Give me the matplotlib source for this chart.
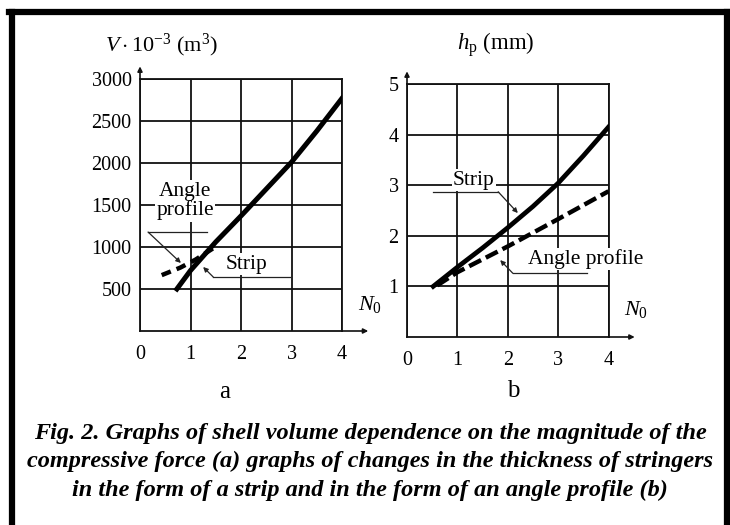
import matplotlib
matplotlib.use("Agg")
import matplotlib.pyplot as plt
from matplotlib.lines import Line2D

plt.rcParams['font.family'] = ['Liberation Serif', 'DejaVu Serif']
plt.rcParams['mathtext.fontset'] = 'custom'
plt.rcParams['mathtext.rm'] = 'Liberation Serif'
plt.rcParams['mathtext.it'] = 'Liberation Serif:italic'

# --- data ---
n_ticks = [0, 1, 2, 3, 4]

# (a) shell volume V*10^-3, m^3
vol_ticks = [500, 1000, 1500, 2000, 2500, 3000]
strip_a_x = [0.73, 1.0, 1.5, 2.0, 2.5, 3.0, 3.5, 4.0]
strip_a_y = [500, 720, 1060, 1370, 1690, 2010, 2380, 2770]
angle_a_x = [0.43, 0.8, 1.1, 1.45]
angle_a_y = [665, 755, 850, 985]

# (b) stringer thickness h_p, mm
h_ticks = [1, 2, 3, 4, 5]
strip_b_x = [0.52, 1.0, 1.5, 2.0, 2.5, 3.0, 3.5, 4.0]
strip_b_y = [1.0, 1.38, 1.76, 2.16, 2.58, 3.04, 3.58, 4.15]
angle_b_x = [0.6, 1.0, 2.0, 3.0, 4.0]
angle_b_y = [1.02, 1.28, 1.79, 2.33, 2.88]

caption = ("Fig. 2. Graphs of shell volume dependence on the magnitude of the\n"
           "compressive force (a) graphs of changes in the thickness of stringers\n"
           "in the form of a strip and in the form of an angle profile (b)")

W, H = 730, 525
fig = plt.figure(figsize=(W / 100, H / 100), dpi=100)

INK = '#111111'
LEAD = dict(arrowstyle='-|>', lw=0.9, color='#222222', mutation_scale=7,
            shrinkA=0, shrinkB=0)


def px_axes(x0, y0, x1, y1):
    # pixel box (top-left origin) -> figure axes
    return fig.add_axes([x0 / W, 1 - y1 / H, (x1 - x0) / W, (y1 - y0) / H])


def style(ax, xmax, ymax, yt):
    ax.set_xlim(0, xmax)
    ax.set_ylim(0, ymax)
    ax.set_xticks(n_ticks)
    ax.set_yticks(yt)
    ax.grid(True, color=INK, lw=1.3)
    for s in ax.spines.values():
        s.set_linewidth(1.3)
        s.set_color(INK)
    ax.tick_params(axis='x', length=0, pad=10, labelsize=14.5)
    ax.tick_params(axis='y', length=0, pad=6, labelsize=14.5)
    ax.set_axisbelow(True)
    # axis arrows
    arr = dict(arrowstyle='-|>', lw=1.2, color=INK, mutation_scale=7,
               shrinkA=0, shrinkB=0)
    ax.annotate('', xy=(xmax * 1.13, 0), xytext=(xmax, 0), arrowprops=arr,
                annotation_clip=False)
    ax.annotate('', xy=(0, ymax * 1.05), xytext=(0, ymax), arrowprops=arr,
                annotation_clip=False)


def callout(ax, text, xy, line_x, line_y, start, tip):
    ax.text(xy[0], xy[1], text, fontsize=15.5, ha='center', va='center',
            zorder=4, linespacing=1.0, clip_on=False,
            bbox=dict(facecolor='white', edgecolor='none', pad=1.0))
    ax.plot(line_x, [line_y, line_y], color='#222222', lw=0.9, zorder=5,
            clip_on=False)
    ax.annotate('', xy=tip, xytext=start, arrowprops=LEAD, zorder=5,
                annotation_clip=False)


# ---- (a) ----
ax1 = px_axes(140, 79, 342, 331)
style(ax1, 4, 3000, vol_ticks)
ax1.plot(strip_a_x, strip_a_y, color='black', lw=3.6, zorder=3)
ax1.plot(angle_a_x, angle_a_y, color='black', lw=3.2, zorder=3,
         dashes=(2.2, 1.4))
callout(ax1, 'Angle\nprofile', (0.89, 1548), [0.16, 1.33], 1178,
        (0.16, 1178), (0.81, 810))
callout(ax1, 'Strip', (2.1, 797), [1.45, 2.97], 643,
        (1.45, 643), (1.25, 762))
ax1.text(0.43, 3240, r'$V\cdot10^{-3}$ (m$^3$)', fontsize=16, ha='center',
         va='bottom')
ax1.text(4.55, 190, r'$N_0$', fontsize=16, ha='center', va='bottom')

# ---- (b) ----
ax2 = px_axes(407, 84, 608.5, 337)
style(ax2, 4, 5, h_ticks)
ax2.plot(strip_b_x, strip_b_y, color='black', lw=3.4, zorder=3)
ax2.plot(angle_b_x, angle_b_y, color='black', lw=3.2, zorder=3,
         dashes=(3.0, 1.2))
callout(ax2, 'Strip', (1.33, 3.10), [0.52, 1.81], 2.87,
        (1.81, 2.87), (2.2, 2.45))
callout(ax2, 'Angle profile', (3.55, 1.54), [2.1, 3.57], 1.26,
        (2.1, 1.26), (1.85, 1.52))
ax2.text(1.77, 5.50, r'$h_\mathrm{p}$ (mm)', fontsize=16.5, ha='center',
         va='bottom')
ax2.text(4.55, 0.34, r'$N_0$', fontsize=16, ha='center', va='bottom')

# sub-figure letters and caption
fig.text(225 / W, 1 - 392 / H, 'a', fontsize=18, ha='center', va='center')
fig.text(513 / W, 1 - 391 / H, 'b', fontsize=18, ha='center', va='center')
fig.text(370 / W, 1 - 462 / H, caption, fontsize=17.5, fontweight='bold',
         style='italic', ha='center', va='center', linespacing=1.45)

# thick frame
for xs, ys in [([12, 12], [12, 525]), ([9, 730], [12, 12]),
               ([727, 727], [12, 525])]:
    fig.add_artist(Line2D([x / W for x in xs], [1 - y / H for y in ys],
                          transform=fig.transFigure, color='black', lw=4.5))

fig.savefig('out.png', dpi=100)
